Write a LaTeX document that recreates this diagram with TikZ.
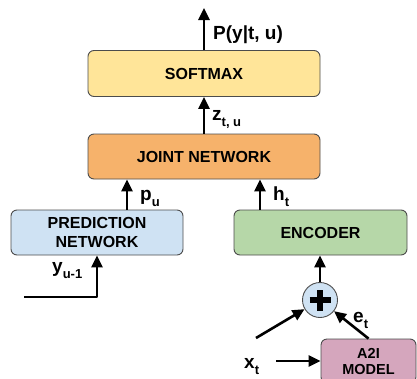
\documentclass[tikz,border=0pt]{standalone}
\usepackage{fontspec}
\setmainfont{Liberation Sans}
\usetikzlibrary{arrows.meta}
\definecolor{softmaxfill}{HTML}{FFE599}
\definecolor{jointfill}{HTML}{F6B26B}
\definecolor{predfill}{HTML}{CFE2F3}
\definecolor{encfill}{HTML}{B6D7A8}
\definecolor{modelfill}{HTML}{D5A6BD}
\newcommand\lowsub[1]{\raisebox{-0.36em}{\fontsize{13}{13}\selectfont #1}}
\begin{document}
\begin{tikzpicture}[x=1pt, y=-1pt, line join=round, >={Triangle[length=12pt,width=11pt]},
		font=\bfseries\fontsize{16}{19}\selectfont,
		box/.style={draw=black!70, line width=0.9pt, rounded corners=6pt, align=center, inner sep=0pt},
		flow/.style={->, line width=2.6pt},
		lbl/.style={font=\bfseries\fontsize{19}{19}\selectfont, inner sep=0pt, anchor=base west}]
		\def\W{417} \def\H{378}
		\useasboundingbox (0,0) rectangle (\W,\H);
		\clip (0,0) rectangle (\W,\H);
		% boxes
		\node[box, fill=softmaxfill, minimum width=232pt, minimum height=46pt] (softmax) at (204,73.5) {SOFTMAX};
		\node[box, fill=jointfill, minimum width=232pt, minimum height=45pt] (joint) at (204,156.5) {JOINT NETWORK};
		\node[box, fill=predfill, minimum width=172pt, minimum height=45pt] (pred) at (97,232.5) {PREDICTION\\NETWORK};
		\node[box, fill=encfill, minimum width=173pt, minimum height=45pt] (enc) at (320.5,232.5) {ENCODER};
		\node[box, fill=modelfill, minimum width=95pt, minimum height=44pt, font=\bfseries\fontsize{14.5}{16}\selectfont] (a2i) at (368.5,361) {A2I\\MODEL};
		\node[circle, draw=black!70, line width=0.9pt, fill=predfill, minimum size=35pt, inner sep=0pt] (plus) at (320,300) {};
		\draw[line width=6.5pt] ([xshift=-10.5pt]plus.center) -- ([xshift=10.5pt]plus.center);
		\draw[line width=6.5pt] ([yshift=-10.5pt]plus.center) -- ([yshift=10.5pt]plus.center);
		% free ends
		\coordinate (out) at (204,8);
		\coordinate (yin) at (24,297);
		\coordinate (xup) at (256,338);
		\coordinate (xin) at (276,361);
		% connectors
		\draw[flow] (softmax.north) -- (out);
		\draw[flow] (joint.north) -- (softmax.south);
		\draw[flow] (pred.north -| 127,0) -- (joint.south -| 127,0);
		\draw[flow] (enc.north -| 260,0) -- (joint.south -| 260,0);
		\draw[flow] (yin) -| (pred.south);
		\draw[flow] (plus.north) -- (enc.south -| plus.north);
		\draw[flow] (xup) -- (plus);
		\draw[flow] (a2i.north) -- (plus);
		\draw[flow] (xin) -- (a2i.west);
		% labels
		\node[lbl] (pyt) at (213,39) {P(y|t, u)};
		\node[lbl] (ztu) at (212,120) {z\lowsub{t, u}};
		\node[lbl] (pu) at (140,200) {p\lowsub{u}};
		\node[lbl] (ht) at (273,200) {h\lowsub{t}};
		\node[lbl] (yu) at (52,272) {y\lowsub{u-1}};
		\node[lbl] (et) at (353,322) {e\lowsub{t}};
		\node[lbl] (xt) at (244,368) {x\lowsub{t}};
\end{tikzpicture}
\end{document}
